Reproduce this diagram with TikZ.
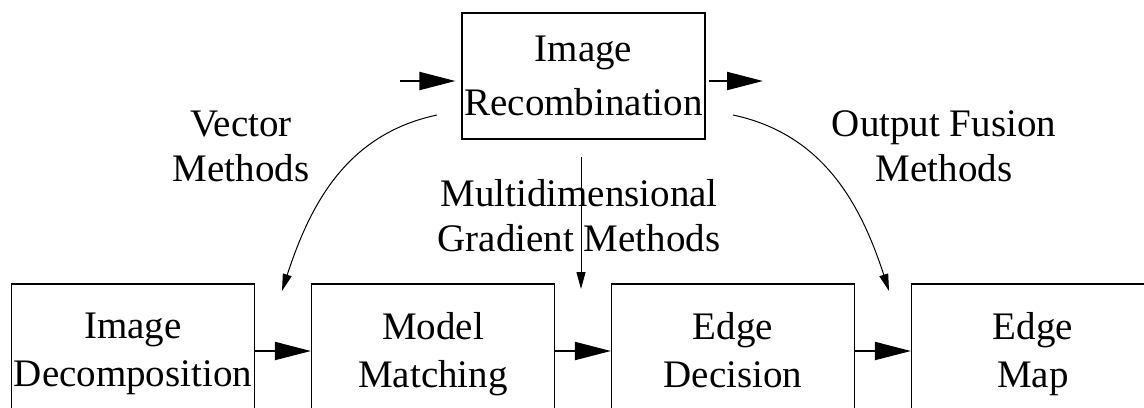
\documentclass[tikz,border=0pt]{standalone}
\usepackage{fontspec}
\setmainfont{Liberation Serif}
\usetikzlibrary{arrows.meta}

\begin{document}
\begin{tikzpicture}[x=0.5pt,y=0.5pt,
  stage/.style={draw,line width=0.6pt,minimum width=121.5pt,inner sep=0pt,align=center,font=\fontsize{19.5}{24}\selectfont},
  method/.style={inner sep=0pt,align=center,font=\fontsize{19.5}{22.5}\selectfont},
  flow/.style={line width=1pt,-{Triangle[length=18pt,width=9pt]}},
  feed/.style={line width=0.5pt,-{Triangle[length=8.5pt,width=4.5pt]}}]
\useasboundingbox (0,0) rectangle (1144,-407);
\clip (0,0) rectangle (1144,-407);
\node [stage,minimum height=63pt,font=\fontsize{19.5}{27}\selectfont] (recomb) at (583.5,-76) {Image\\Recombination};
\foreach \nm/\txt/\pos in {decomp/{Image\\Decomposition}/0,match/{Model\\Matching}/1,decision/{Edge\\Decision}/2,map/{Edge\\Map}/3}
  {\node [stage,minimum height=70pt,execute at end node=\vphantom{g}] (\nm) at (133+300*\pos,-354) {\txt};}
\foreach \a/\b in {decomp/match,match/decision,decision/map}
  {\draw [flow] ([yshift=1.5pt]\a.east) -- ([yshift=1.5pt]\b.west);}
\coordinate (src) at (400,-81);
\coordinate (dst) at (763,-81);
\draw [flow,shorten >=3pt] (src) -- (src -| recomb.west);
\draw [flow,shorten <=1.5pt] (recomb.east |- dst) -- (dst);
\coordinate (vec) at (437,-115);
\coordinate (vecend) at (282,-291);
\coordinate (fus) at (733,-115);
\coordinate (fusend) at (889,-291);
\coordinate (grad) at (581,-157);
\coordinate (gradend) at (581,-289);
\draw [feed] (vec) to[out=192,in=72] (vecend);
\draw [feed] (fus) to[out=-12,in=108] (fusend);
\draw [feed] (grad) -- (gradend);
\node [method] (vecl) at (241,-146.5) {Vector\\Methods};
\node [method] (fusl) at (944,-146) {Output Fusion\\Methods};
\node [method] (gradl) at (579,-215.5) {Multidimensional\\Gradient Methods};
\end{tikzpicture}
\end{document}
